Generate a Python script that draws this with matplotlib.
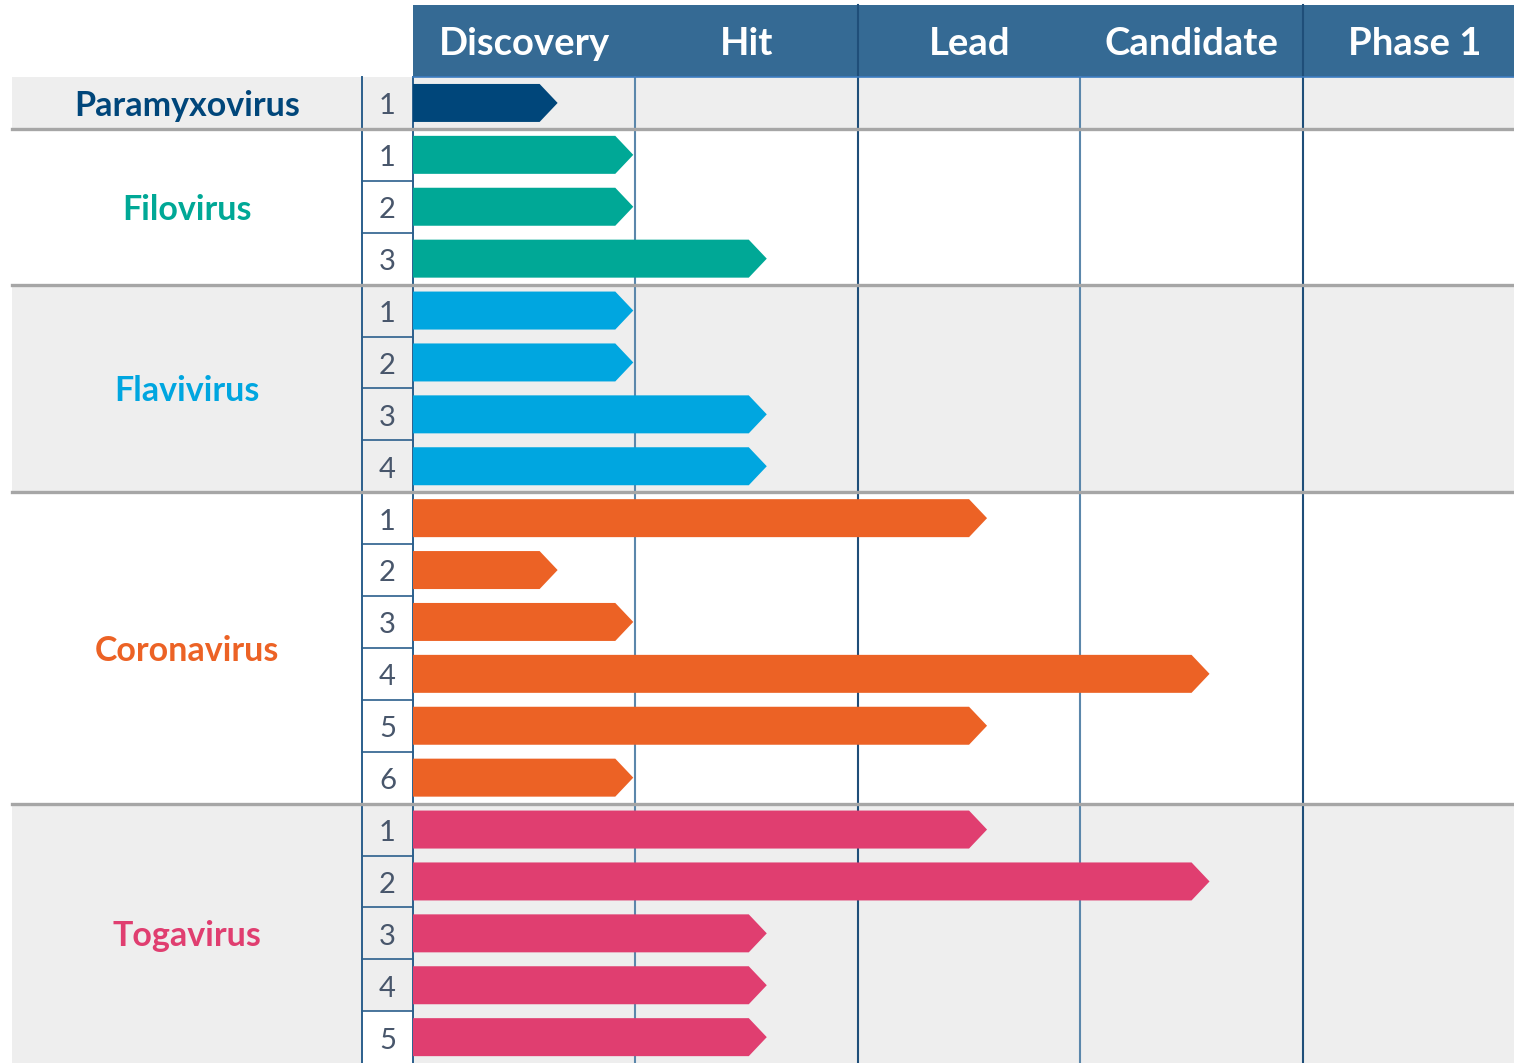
import matplotlib.pyplot as plt
from matplotlib.patches import Polygon, Rectangle

plt.rcParams['font.family'] = ['Lato', 'DejaVu Sans']

# data
stages = ["Discovery", "Hit", "Lead", "Candidate", "Phase 1"]
groups = ["Paramyxovirus", "Filovirus", "Flavivirus", "Coronavirus", "Togavirus"]
colors = ["#00467a", "#00a896", "#00a6e0", "#ec6225", "#e03e70"]
paramyxo = [0.65]
filo = [0.99, 0.99, 1.59]
flavi = [0.99, 0.99, 1.59, 1.59]
corona = [2.58, 0.65, 0.99, 3.58, 2.58, 0.99]
toga = [2.58, 3.58, 1.59, 1.59, 1.59]
values = [paramyxo, filo, flavi, corona, toga]

# layout (pixels of the reference)
W, H = 1514, 1063
COL_W, ROW_H = 222.5, 51.9
X0, Y0 = 413, 77

def px(x):
    return (x - X0) / COL_W

def py(y):
    return (y - Y0) / ROW_H

fig = plt.figure(figsize=(W / 100, H / 100), dpi=100)
ax = fig.add_axes([0, 0, 1, 1])
ax.set_xlim(px(0), px(W))
ax.set_ylim(py(H), py(0))
ax.axis('off')

xmax = px(W)
left = px(12)
num_l, num_r = px(362), px(413)
head_top = py(5)

# header
ax.add_patch(Rectangle((0, head_top), xmax, -head_top, color="#356a94", lw=0, zorder=1))
for i, s in enumerate(stages):
    ax.text(i + 0.5, py(55), s, color="white", fontsize=27.5, fontweight="bold",
            ha="center", va="baseline", zorder=5)
ax.plot([0, xmax], [0, 0], color="#3d7cc0", lw=1.2, zorder=4)

# body backgrounds, labels and bars
n_rows = sum(len(v) for v in values)
row = 0
for g, (name, col, vals) in enumerate(zip(groups, colors, values)):
    n = len(vals)
    bg = "#eeeeee" if g % 2 == 0 else "white"
    ax.add_patch(Rectangle((left, row), xmax - left, n, color=bg, lw=0, zorder=0))
    ax.text((left + num_l) / 2, row + n / 2 + 0.25, name, color=col, fontsize=24.5,
            fontweight="bold", ha="center", va="baseline", zorder=5)
    for k, v in enumerate(vals):
        r = row + k
        if name == "Togavirus" and k == n - 1:
            ax.add_patch(Rectangle((num_l, r), num_r - num_l, 1, color="white", lw=0, zorder=0.5))
        ax.text((num_l + num_r) / 2, r + 0.5 + 0.22, str(k + 1), color="#48566b",
                fontsize=21, ha="center", va="baseline", zorder=5)
        if k > 0:
            ax.plot([num_l, num_r], [r, r], color="#2b5f8c", lw=1.2, zorder=3)
        hh = 0.366
        tip = 18 / COL_W
        cy = r + 0.5
        pts = [(0, cy - hh), (v - tip, cy - hh), (v, cy), (v - tip, cy + hh), (0, cy + hh)]
        ax.add_patch(Polygon(pts, closed=True, color=col, lw=0, zorder=4))
    row += n
    if g < len(groups) - 1:
        ax.plot([left, xmax], [row, row], color="#a6a6a6", lw=2.4, zorder=3.5)

# grid lines
grid_cols = ["#5b87ab", "#1f4e79", "#5b87ab", "#1f4e79"]
for i, c in enumerate(grid_cols):
    top = head_top if i % 2 == 1 else 0
    ax.plot([i + 1, i + 1], [top, n_rows + 1], color=c, lw=1.5, zorder=2)
ax.plot([num_l, num_l], [0, n_rows + 1], color="#2b5f8c", lw=1.4, zorder=3)
ax.plot([num_r, num_r], [0, n_rows + 1], color="#2b5f8c", lw=1.4, zorder=3)

fig.savefig("out.png", dpi=100)
